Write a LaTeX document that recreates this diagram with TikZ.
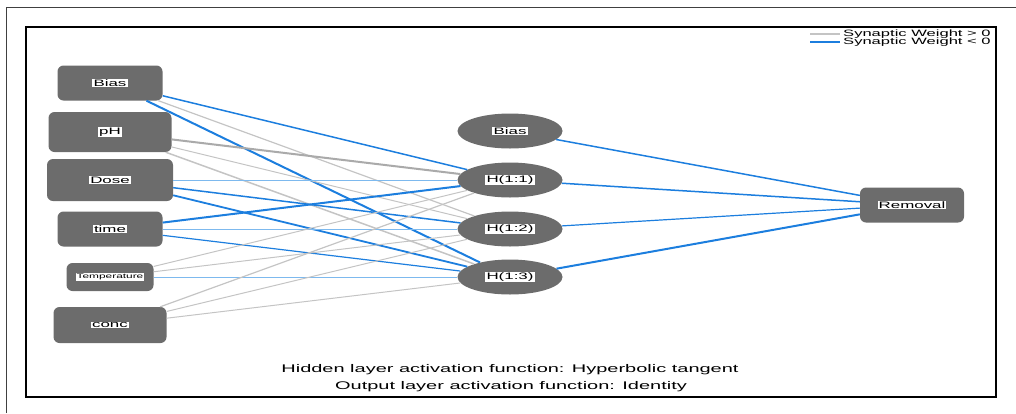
\documentclass[tikz,border=0pt]{standalone}
\usepackage{fontspec}
\setmainfont{Liberation Sans}
\usepackage{graphicx}
\usepackage{xcolor}
\usetikzlibrary{shapes.geometric}

\definecolor{nodegray}{RGB}{108,108,108}
\definecolor{negblue}{RGB}{28,126,222}
\definecolor{paleblue}{RGB}{125,185,238}
\definecolor{posgray}{RGB}{196,196,196}
\definecolor{darkgray}{RGB}{170,170,170}

% labels of the plot are stretched sideways, as in the exported figure
\newcommand{\wtext}[1]{\scalebox{1.8}[1]{#1}}
\newcommand{\wlabel}[1]{\scalebox{1.8}[1]{\fboxsep=0.6pt\colorbox{white}{#1}}}

\begin{document}
\begin{tikzpicture}[
    x=1pt, y=-1pt,
    font=\fontsize{9.4}{10}\selectfont,
    input/.style={fill=nodegray, rounded corners=6pt, inner sep=0pt,
      minimum width=105pt, minimum height=35pt},
    hidden/.style={ellipse, fill=nodegray, inner sep=0pt,
      minimum width=105pt, minimum height=35pt},
    outnode/.style={fill=nodegray, rounded corners=6pt, inner sep=0pt,
      minimum width=104pt, minimum height=35pt},
    poslink/.style={posgray, line width=1pt},
    neglink/.style={negblue, line width=1.4pt},
    caption/.style={font=\fontsize{11.1}{12}\selectfont, inner sep=0pt}
  ]
    \useasboundingbox (0,0) rectangle (1016,413);
    \draw[black!75, line width=0.8pt] (6,413) |- (1016,7);
    \draw[black, line width=2.6pt] (26,27) rectangle (996,397);

    % input layer
    \node[input] (bias) at (110,83) {\wlabel{Bias}};
    \node[input, minimum width=123pt, minimum height=40pt] (ph) at (110,132) {\wlabel{pH}};
    \node[input, minimum width=126pt, minimum height=42pt] (dose) at (110,180) {\wlabel{Dose}};
    \node[input] (time) at (110,229) {\wlabel{time}};
    \node[input, minimum width=87pt, minimum height=28pt, font=\fontsize{6.6}{7}\selectfont]
      (temp) at (110,277) {\wlabel{Temperature}};
    \node[input, minimum width=113pt, minimum height=36pt] (conc) at (110,325) {\wlabel{conc}};

    % hidden layer
    \node[hidden] (hbias) at (510,131) {\wlabel{Bias}};
    \node[hidden] (h1) at (510,180) {\wlabel{H(1:1)}};
    \node[hidden] (h2) at (510,229) {\wlabel{H(1:2)}};
    \node[hidden] (h3) at (510,277) {\wlabel{H(1:3)}};

    % output layer
    \node[outnode] (removal) at (912,205) {\wlabel{Removal}};

    % weights into the hidden layer
    \draw[neglink, line width=1.5pt] (bias) -- (h1);
    \draw[poslink, line width=1.2pt] (bias) -- (h2);
    \draw[neglink, line width=2pt] (bias) -- (h3);
    \draw[poslink, darkgray, line width=2pt] (ph) -- (h1);
    \draw[poslink] (ph) -- (h2);
    \draw[poslink, line width=1.5pt] (ph) -- (h3);
    \draw[neglink, paleblue, line width=0.8pt] (dose) -- (h1);
    \draw[neglink, line width=1.5pt] (dose) -- (h2);
    \draw[neglink, line width=1.8pt] (dose) -- (h3);
    \draw[neglink, line width=2pt] (time) -- (h1);
    \draw[neglink, paleblue, line width=0.6pt] (time) -- (h2);
    \draw[neglink, line width=1.2pt] (time) -- (h3);
    \draw[poslink] (temp) -- (h1);
    \draw[poslink] (temp) -- (h2);
    \draw[neglink, paleblue, line width=0.6pt] (temp) -- (h3);
    \draw[poslink, line width=1.2pt] (conc) -- (h1);
    \draw[poslink] (conc) -- (h2);
    \draw[poslink] (conc) -- (h3);

    % weights into the output layer
    \draw[neglink, line width=1.5pt] (hbias) -- (removal);
    \draw[neglink, line width=1.5pt] (h1) -- (removal);
    \draw[neglink, line width=1.2pt] (h2) -- (removal);
    \draw[neglink, line width=2pt] (h3) -- (removal);

    % legend
    \coordinate (lg1a) at (810,34);
    \coordinate (lg1b) at (840,34);
    \coordinate (lg2a) at (810,42);
    \coordinate (lg2b) at (840,42);
    \draw[poslink, line width=1.3pt] (lg1a) -- (lg1b);
    \draw[neglink] (lg2a) -- (lg2b);
    \node[anchor=west, inner sep=0pt, font=\fontsize{9.2}{9.2}\selectfont] (leg1) at (843,34)
      {\wtext{Synaptic Weight > 0}};
    \node[anchor=west, inner sep=0pt, font=\fontsize{9.2}{9.2}\selectfont] (leg2) at (843,42)
      {\wtext{Synaptic Weight < 0}};

    \node[caption] (hidfun) at (510,370) {\wtext{Hidden layer activation function: Hyperbolic tangent}};
    \node[caption] (outfun) at (511,387) {\wtext{Output layer activation function: Identity}};
  \end{tikzpicture}
\end{document}
